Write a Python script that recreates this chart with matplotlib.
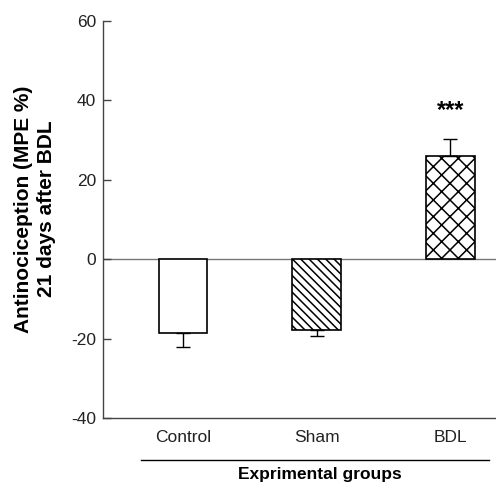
import matplotlib
matplotlib.use("Agg")
import matplotlib.pyplot as plt
from matplotlib.lines import Line2D

plt.rcParams['font.family'] = ['Liberation Sans', 'DejaVu Sans']
plt.rcParams['hatch.linewidth'] = 1.1

# data
groups = ["Control", "Sham", "BDL"]
mpe_mean = [-18.7, -17.8, 26.1]
mpe_sem = [3.4, 1.6, 4.3]
hatches = ["", "\\\\\\\\", "xx"]
y_ticks = [-40, -20, 0, 20, 40, 60]

fig = plt.figure(figsize=(4.96, 4.82), dpi=100)
ax = fig.add_axes([0.2077, 0.1328, 0.80, 0.8236])

x = list(range(len(groups)))
ax.axhline(0, color="#777777", linewidth=1.0, zorder=1)
bars = ax.bar(x, mpe_mean, width=0.362, color="white", edgecolor="black",
              linewidth=1.2, zorder=2)
for b, h in zip(bars, hatches):
    b.set_hatch(h)

# one-sided error bars (away from zero)
lower = [s if m < 0 else 0 for m, s in zip(mpe_mean, mpe_sem)]
upper = [s if m >= 0 else 0 for m, s in zip(mpe_mean, mpe_sem)]
ax.errorbar(x, mpe_mean, yerr=[lower, upper], fmt="none", ecolor="black",
            elinewidth=1.0, capsize=4.7, capthick=1.0, zorder=3)

# significance mark
ax.text(x[2], mpe_mean[2] + mpe_sem[2] + 7.0, "***", ha="center", va="center",
        fontsize=17, fontweight="bold")

ax.set_xlim(-0.596, 2.37)
ax.set_ylim(-40, 60)
ax.set_yticks(y_ticks)
ax.set_yticklabels([str(t) for t in y_ticks], fontsize=12.5, color="#222222")
ax.tick_params(axis="y", direction="in", length=6, width=1.0, color="#444444", pad=5)
ax.set_xticks(x)
ax.set_xticklabels(groups, fontsize=12.5, color="#222222")
ax.tick_params(axis="x", length=0, pad=9)

for s in ["top", "right"]:
    ax.spines[s].set_visible(False)
for s in ["left", "bottom"]:
    ax.spines[s].set_color("#444444")
    ax.spines[s].set_linewidth(1.0)

# y label, placed by hand (sits a bit above the axes centre)
fig.text(35 / 496, 1 - 209 / 482, "Antinociception (MPE %)\n21 days after BDL",
         rotation=90, ha="center", va="center", fontsize=15,
         fontweight="bold", linespacing=1.25)

# separate line and group title under the category labels
fig.add_artist(Line2D([141 / 496, 489 / 496], [1 - 460 / 482, 1 - 460 / 482],
                      transform=fig.transFigure, color="black", linewidth=1.0))
fig.text(320 / 496, 1 - 475 / 482, "Exprimental groups", ha="center", va="center",
         fontsize=12.5, fontweight="bold")

fig.savefig("out.png", dpi=100)
